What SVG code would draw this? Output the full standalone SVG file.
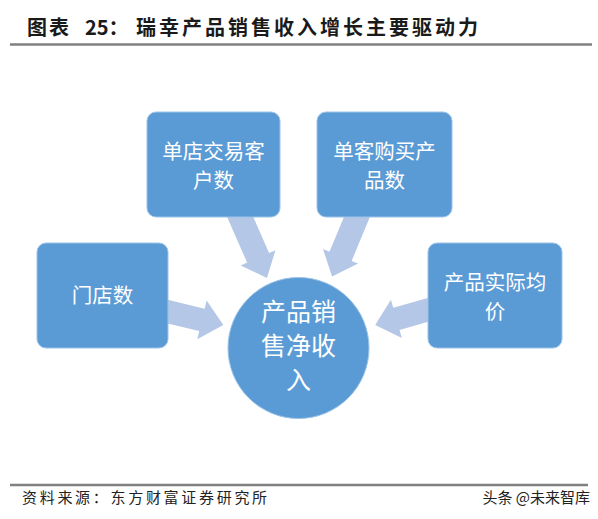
<svg xmlns="http://www.w3.org/2000/svg" width="598" height="519" viewBox="0 0 598 519">
  <style>
    .title { font-family: "Noto Sans CJK SC", "Liberation Sans", sans-serif; font-size: 20px; font-weight: 700; fill: #1a1a1a; }
    .foot { font-family: "Noto Sans CJK SC", "Liberation Sans", sans-serif; font-size: 15px; fill: #222; }
    .box { fill: #5B9BD5; stroke: #9cc3e8; stroke-width: 1; }
    .btxt { font-family: "Noto Sans CJK SC", "Liberation Sans", sans-serif; font-size: 20.5px; fill: #ffffff; text-anchor: middle; }
    .ctxt { font-family: "Noto Sans CJK SC", "Liberation Sans", sans-serif; font-size: 25px; fill: #ffffff; text-anchor: middle; }
    .arrow { fill: #B4C7E7; }
    .rule { stroke: #808080; stroke-width: 2.5; }
  </style>
  <rect width="598" height="519" fill="#ffffff"/>

  <g id="header">
    <text class="title" x="27" y="35" letter-spacing="2">图表</text>
    <text class="title" x="85" y="35">25：</text>
    <text class="title" x="136" y="35" letter-spacing="3">瑞幸产品销售收入增长主要驱动力</text>
    <line class="rule" x1="10" y1="44.5" x2="592" y2="44.5"/>
  </g>

  <g id="connectors">
    <polygon class="arrow" points="0,-12 50,-12 50,-19 72,0 50,19 50,12 0,12" transform="translate(238,212) rotate(66.3)"/>
    <polygon class="arrow" points="0,-12 48,-12 48,-19 70,0 48,19 48,12 0,12" transform="translate(359,212) rotate(112.6)"/>
    <polygon class="arrow" points="0,-11.5 38,-11.5 38,-20 60,0 38,20 38,11.5 0,11.5" transform="translate(165,311) rotate(13.6)"/>
    <polygon class="arrow" points="0,-11.5 36,-11.5 36,-20 58,0 36,20 36,11.5 0,11.5" transform="translate(431,309) rotate(164.1)"/>
  </g>

  <g id="node-store-customers">
    <rect class="box" x="147" y="112" width="133" height="105" rx="9"/>
    <text class="btxt" x="213.5" y="159">单店交易客</text>
    <text class="btxt" x="213.5" y="188">户数</text>
  </g>

  <g id="node-items-per-customer">
    <rect class="box" x="317" y="112" width="135" height="105" rx="9"/>
    <text class="btxt" x="384.5" y="159">单客购买产</text>
    <text class="btxt" x="384.5" y="188">品数</text>
  </g>

  <g id="node-stores">
    <rect class="box" x="37" y="243" width="131" height="105" rx="9"/>
    <text class="btxt" x="102.5" y="303">门店数</text>
  </g>

  <g id="node-avg-price">
    <rect class="box" x="428" y="243" width="134" height="105" rx="9"/>
    <text class="btxt" x="495" y="290">产品实际均</text>
    <text class="btxt" x="495" y="319">价</text>
  </g>

  <g id="node-net-revenue">
    <circle cx="298.5" cy="348" r="70.5" fill="#5B9BD5" stroke="#9cc3e8" stroke-width="1"/>
    <text class="ctxt" x="298.5" y="321">产品销</text>
    <text class="ctxt" x="298.5" y="355">售净收</text>
    <text class="ctxt" x="298.5" y="389">入</text>
  </g>

  <g id="footer">
    <line class="rule" x1="10" y1="485" x2="588" y2="485" stroke-width="1.5"/>
    <text class="foot" x="22" y="503" letter-spacing="2.7">资料来源：东方财富证券研究所</text>
    <text class="foot" x="590" y="503" text-anchor="end" fill="#333">头条 @未来智库</text>
  </g>
</svg>
